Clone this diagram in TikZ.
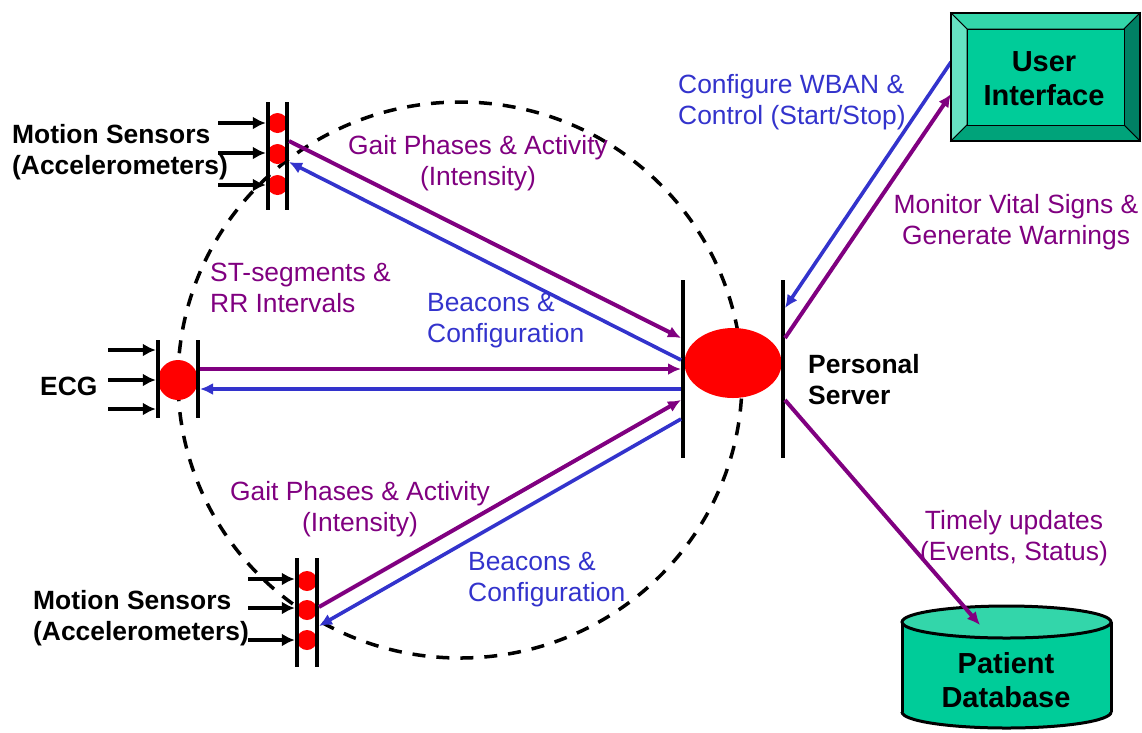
\documentclass[tikz,border=0pt]{standalone}
\usepackage{fontspec}
\setmainfont{Liberation Sans}
\usetikzlibrary{arrows.meta,shapes.geometric}
\definecolor{wpurple}{RGB}{128,0,128}
\definecolor{wblue}{RGB}{51,51,204}
\definecolor{face}{RGB}{0,204,153}
\definecolor{bevtop}{RGB}{51,214,170}
\definecolor{bevleft}{RGB}{102,226,194}
\definecolor{bevright}{RGB}{0,128,100}
\definecolor{bevbot}{RGB}{0,163,122}
\definecolor{dbtop}{RGB}{51,214,170}
\begin{document}
\begin{tikzpicture}[x=1pt,y=-1pt,
  lbl/.style={inner sep=0pt, font=\fontsize{26.4}{31.7}\selectfont},
  blbl/.style={inner sep=0pt, font=\fontsize{26.4}{31.7}\selectfont\bfseries},
  boxlbl/.style={inner sep=0pt, align=center, font=\fontsize{29}{34}\selectfont\bfseries},
  bar/.style={rectangle, fill=black, inner sep=0pt, minimum width=4pt, minimum height=#1},
  dot/.style={circle, fill=red, inner sep=0pt, minimum size=#1},
  tip/.style={-{Latex[length=13pt,width=12pt]}},
  pline/.style={tip, draw=wpurple, line width=4pt},
  bline/.style={tip, draw=wblue, line width=3.6pt},
  feed/.style={-{Latex[length=13pt,width=13pt]}, draw=black, line width=3.5pt},
  ring/.style={draw=black, line width=3.5pt, dash pattern=on 13pt off 11pt},
]
\useasboundingbox (0,0) rectangle (1142,732);

% body area network boundary
\draw[ring] (460,380) ellipse [x radius=282pt, y radius=278pt];

% upper motion sensors
\node[dot=20pt] (ts1) at (277.5,123) {};
\node[dot=20pt] (ts2) at (277.5,154) {};
\node[dot=20pt] (ts3) at (277.5,185) {};
\node[bar=108pt] (tsL) at (268,156) {};
\node[bar=108pt] (tsR) at (287,156) {};

% ECG
\node[dot=40pt] (ecg) at (178,380) {};
\node[bar=78pt] (ecgL) at (158,379) {};
\node[bar=78pt] (ecgR) at (198,379) {};

% lower motion sensors
\node[dot=20pt] (bs1) at (307,581) {};
\node[dot=20pt] (bs2) at (307,610) {};
\node[dot=20pt] (bs3) at (307,640) {};
\node[bar=109pt] (bsL) at (297,612.5) {};
\node[bar=109pt] (bsR) at (317,612.5) {};

% personal server
\node[ellipse, fill=red, inner sep=0pt, minimum width=97pt, minimum height=70pt] (srv) at (733,363) {};
\node[bar=178pt] (srvL) at (683,369) {};
\node[bar=178pt] (srvR) at (783,369) {};

% sensor inputs
\coordinate (tin1) at (218,123);
\coordinate (tin2) at (218,153);
\coordinate (tin3) at (218,185);
\coordinate (ein1) at (108,350);
\coordinate (ein2) at (108,380);
\coordinate (ein3) at (108,409);
\coordinate (bin1) at (248,579);
\coordinate (bin2) at (248,608);
\coordinate (bin3) at (248,640);
\foreach \c in {tin1,tin2,tin3} \draw[feed] (\c) -- (\c -| tsL.west);
\foreach \c in {ein1,ein2,ein3} \draw[feed] (\c) -- (\c -| ecgL.west);
\foreach \c in {bin1,bin2,bin3} \draw[feed] (\c) -- (\c -| bsL.west);

% link end points
\coordinate (tsP) at (289,141);
\coordinate (tsB) at (289,162);
\coordinate (eP) at (200,369);
\coordinate (eB) at (200,389);
\coordinate (bsP) at (319,607);
\coordinate (bsB) at (319,626);
\coordinate (sl1) at (681,338);
\coordinate (sl2) at (681,360);
\coordinate (sl3) at (681,369);
\coordinate (sl4) at (681,389);
\coordinate (sl5) at (681,400);
\coordinate (sl6) at (681,419);
\coordinate (sr1) at (785,308);
\coordinate (sr2) at (785,338);
\coordinate (sr3) at (785,400);
\coordinate (uiB) at (951,62);
\coordinate (uiP) at (951,94);
\coordinate (dbP) at (980,625);

% wireless links
\draw[pline] (tsP) -- (sl1);
\draw[bline] (sl2) -- (tsB);
\draw[pline] (eP) -- (sl3);
\draw[bline] (sl4) -- (eB);
\draw[pline] (bsP) -- (sl5);
\draw[bline] (sl6) -- (bsB);
\draw[bline] (uiB) -- (sr1);
\draw[pline] (sr2) -- (uiP);

% user interface box with bevelled frame
\filldraw[fill=bevtop, line width=1pt] (951,13) -- (1140,13) -- (1124,29) -- (967,29) -- cycle;
\filldraw[fill=bevleft, line width=1pt] (951,13) -- (967,29) -- (967,125) -- (951,141) -- cycle;
\filldraw[fill=bevright, line width=1pt] (1140,13) -- (1140,141) -- (1124,125) -- (1124,29) -- cycle;
\filldraw[fill=bevbot, line width=1pt] (951,141) -- (967,125) -- (1124,125) -- (1140,141) -- cycle;
\filldraw[fill=face, line width=1pt] (967,29) rectangle (1124,125);
\draw[line width=1.5pt] (951,13) rectangle (1140,141);
\node[boxlbl] (ui) at (1044,79) {User\\Interface};

% patient database cylinder
\fill[face] (1006.5,712) ellipse [x radius=104.5pt, y radius=16pt];
\fill[face] (902,622) rectangle (1111,712);
\begin{scope}
  \clip (890,712) rectangle (1125,735);
  \draw[line width=3pt] (1006.5,712) ellipse [x radius=104.5pt, y radius=16pt];
\end{scope}
\draw[line width=3pt] (902,622) -- (902,712) (1111,622) -- (1111,712);
\filldraw[fill=dbtop, line width=3pt] (1006.5,622) ellipse [x radius=104.5pt, y radius=16pt];
\node[boxlbl] (db) at (1006,680) {Patient\\Database};

% update link onto the database top
\draw[pline] (sr3) -- (dbP);

% device labels
\node[blbl, anchor=north west, align=left] (lmt) at (12,120.8) {\strut Motion Sensors\\(Accelerometers)};
\node[blbl, anchor=north west, align=left] (lmb) at (33,586.8) {\strut Motion Sensors\\(Accelerometers)};
\node[blbl, anchor=north west] (lecg) at (40,372.8) {\strut ECG};
\node[blbl, anchor=north west, align=left] (lsrv) at (808,350.8) {\strut Personal\\Server};

% link labels
\node[lbl, text=wpurple, anchor=north, align=center] (g1) at (478,131.8) {\strut Gait Phases \& Activity\\(Intensity)};
\node[lbl, text=wpurple, anchor=north west, align=left] (st) at (210,258.8) {\strut ST-segments \&\\RR Intervals};
\node[lbl, text=wblue, anchor=north west, align=left] (bc1) at (427,288.8) {\strut Beacons \&\\Configuration};
\node[lbl, text=wpurple, anchor=north, align=center] (g2) at (360,477.8) {\strut Gait Phases \& Activity\\(Intensity)};
\node[lbl, text=wblue, anchor=north west, align=left] (bc2) at (468,547.8) {\strut Beacons \&\\Configuration};
\node[lbl, text=wblue, anchor=north west, align=left] (cfg) at (678,70.8) {\strut Configure WBAN \&\\Control (Start/Stop)};
\node[lbl, text=wpurple, anchor=north, align=center] (mon) at (1016,190.8) {\strut Monitor Vital Signs \&\\Generate Warnings};
\node[lbl, text=wpurple, anchor=north, align=center] (upd) at (1014,506.8) {\strut Timely updates\\(Events, Status)};
\end{tikzpicture}
\end{document}
